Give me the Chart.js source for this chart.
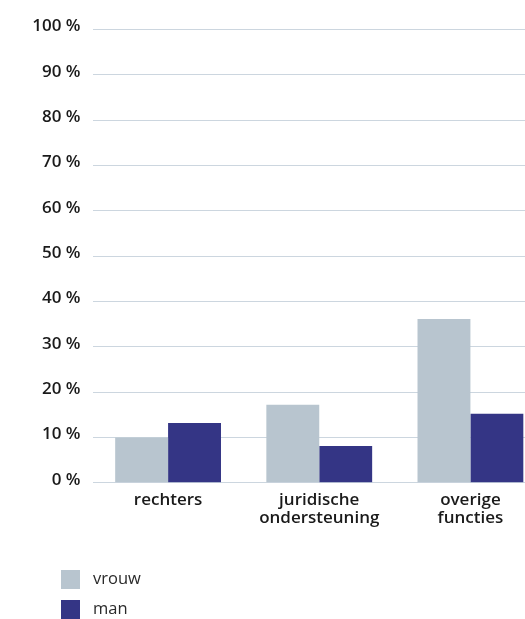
<!DOCTYPE html>
<html><head><meta charset="utf-8">
<script src="https://cdn.jsdelivr.net/npm/chart.js@4/dist/chart.umd.min.js"></script>
<style>html,body{margin:0;padding:0;background:#fff;overflow:hidden;width:525px;height:619px}canvas{display:block}</style>
</head><body>
<canvas id="c" width="546" height="619" style="width:546px;height:619px"></canvas>
<script>
const categories = ['rechters', ['juridische', 'ondersteuning'], ['overige', 'functies']];
const vrouw = [10.0, 17.2, 36.1];
const man = [13.2, 8.1, 15.2];
const yTicks = [0, 10, 20, 30, 40, 50, 60, 70, 80, 90, 100];

const FONT = '"Open Sans", Lato, sans-serif';

const legendPlugin = {
  id: 'stackLegend',
  afterDraw(chart) {
    const ctx = chart.ctx;
    ctx.save();
    chart.data.datasets.forEach((ds, i) => {
      const y = 570 + i * 30;
      ctx.fillStyle = ds.backgroundColor;
      ctx.fillRect(61, y, 19, 19);
      ctx.fillStyle = '#2a2a2a';
      ctx.font = '400 16.5px ' + FONT;
      ctx.textBaseline = 'middle';
      ctx.textAlign = 'left';
      ctx.fillText(ds.label, 93, y + 9);
    });
    ctx.restore();
  }
};

new Chart(document.getElementById('c'), {
  type: 'bar',
  data: {
    labels: categories,
    datasets: [
      { label: 'vrouw', data: vrouw, backgroundColor: '#b8c5cf' },
      { label: 'man', data: man, backgroundColor: '#343585' }
    ]
  },
  options: {
    responsive: false,
    animation: false,
    devicePixelRatio: 1,
    layout: { padding: { top: 29.5, bottom: 76.3, left: 0, right: 0 } },
    plugins: { legend: { display: false }, tooltip: { enabled: false } },
    datasets: { bar: { barPercentage: 1, categoryPercentage: 0.7 } },
    scales: {
      x: {
        grid: { display: false },
        border: { display: false },
        ticks: { color: '#1a1a1a', font: { family: FONT, size: 17, weight: '600', lineHeight: 1.04 }, padding: 1, maxRotation: 0 },
        afterFit(s) { s.height = 60; }
      },
      y: {
        min: 0, max: 100,
        afterBuildTicks(s) { s.ticks = yTicks.map(v => ({ value: v })); },
        grid: { color: '#ccd6df', lineWidth: 1, drawTicks: false },
        border: { display: false },
        ticks: { color: '#1a1a1a', padding: 12, labelOffset: -3, font: { family: FONT, size: 17, weight: '600' }, callback: v => v + ' %' },
        afterFit(s) { s.width = 92.5; }
      }
    }
  },
  plugins: [legendPlugin]
});
</script>
</body></html>
